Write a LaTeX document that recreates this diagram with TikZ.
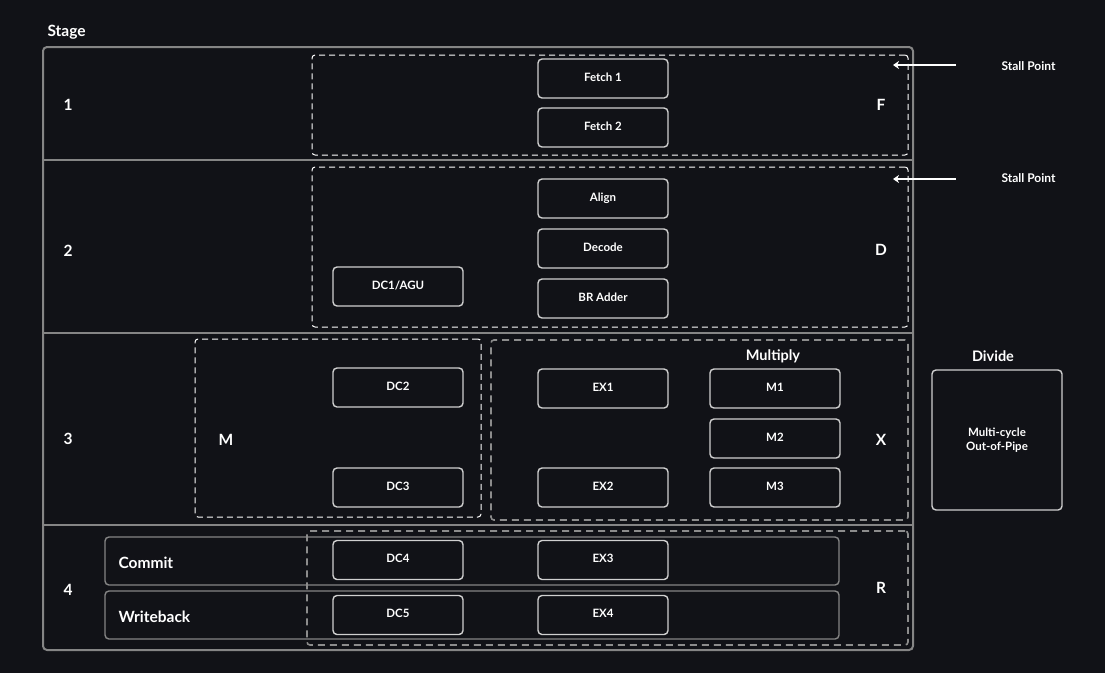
\documentclass[tikz,border=0pt]{standalone}
\usepackage{fontspec}
\setmainfont{Lato}
\usetikzlibrary{arrows.meta}
\definecolor{bg}{HTML}{111217}
\definecolor{framec}{HTML}{858585}
\definecolor{boxc}{HTML}{D0D0D0}
\definecolor{dgray}{HTML}{8C8C8C}
\begin{document}
\begin{tikzpicture}[x=1pt,y=-1pt,
  unit/.style={draw=boxc, fill=bg, line width=1.4pt, rounded corners=4pt, minimum width=130pt, minimum height=39pt, inner sep=0pt, text=white, text height=5.5pt, text depth=0pt, font=\fontsize{11.5}{13}\selectfont\bfseries},
  wdash/.style={draw=white, line width=1pt, dash pattern=on 6pt off 4pt, rounded corners=3pt, inner sep=0pt},
  gdash/.style={draw=dgray, line width=1.6pt, dash pattern=on 7pt off 5pt, rounded corners=3pt, inner sep=0pt},
  lanebox/.style={draw=framec, line width=1.4pt, rounded corners=4pt, inner sep=0pt, minimum width=734pt, minimum height=48pt},
  big/.style={text=white, yshift=-1.2pt, font=\fontsize{15.5}{17}\selectfont\bfseries},
  mid/.style={text=white, yshift=-1pt, font=\fontsize{14.5}{16}\selectfont\bfseries},
  small/.style={text=white, font=\fontsize{12}{14}\selectfont\bfseries},
  sep/.style={draw=framec, line width=2pt}
]
\fill[bg] (0,0) rectangle (1105,673);
\useasboundingbox (0,0) rectangle (1105,673);

% outer frame
\node[draw=framec, line width=2pt, rounded corners=4pt, minimum width=870pt, minimum height=603pt, inner sep=0pt] (frame) at (478,348.5) {};
\draw[sep] (43,160) -- (913,160);
\draw[sep] (43,333) -- (913,333);
\draw[sep] (43,525) -- (913,525);

\node[big, anchor=west] (stage) at (44,31) {Stage};
\node[big] (n1) at (68,104) {1};
\node[big] (n2) at (68,250) {2};
\node[big] (n3) at (68,438) {3};
\node[big] (n4) at (68,589) {4};

% stage F
\node[wdash, minimum width=596pt, minimum height=100pt] (fbox) at (610,105) {};
\node[unit] (fetch1) at (603,78.5) {Fetch 1};
\node[unit] (fetch2) at (603,127.5) {Fetch 2};
\node[big] (F) at (881,104) {F};

% stage D
\node[wdash, minimum width=596pt, minimum height=160pt] (dbox) at (610,247) {};
\node[unit] (align) at (603,198.5) {Align};
\node[unit] (decode) at (603,248.5) {Decode};
\node[unit] (bradd) at (603,298.5) {BR Adder};
\node[unit] (dc1) at (398,286.5) {DC1/AGU};
\node[big] (D) at (881,249) {D};

% stall points
\node[small, anchor=west] (sp1) at (998,66) {Stall Point};
\node[small, anchor=west] (sp2) at (998,178) {Stall Point};
\coordinate (s1) at (956,65);
\coordinate (e1) at (893,65);
\coordinate (s2) at (956,179);
\coordinate (e2) at (893,179);
\draw[white, line width=1.8pt, -{Stealth[length=6pt,width=8pt,inset=2pt]}] (s1) -- (e1);
\draw[white, line width=1.8pt, -{Stealth[length=6pt,width=8pt,inset=2pt]}] (s2) -- (e2);

% stage M
\node[wdash, minimum width=286pt, minimum height=178pt] (mbox) at (338,428) {};
\node[unit] (dc2) at (398,387.5) {DC2};
\node[unit] (dc3) at (398,487.5) {DC3};
\node[big] (M) at (226,439) {M};

% stage X
\node[gdash, minimum width=417pt, minimum height=180pt] (xbox) at (699.5,430) {};
\node[unit] (ex1) at (603,388.5) {EX1};
\node[unit] (ex2) at (603,487.5) {EX2};
\node[unit] (m1) at (775,388.5) {M1};
\node[unit] (m2) at (775,438.5) {M2};
\node[unit] (m3) at (775,487.5) {M3};
\node[mid] (mult) at (773,355) {Multiply};
\node[big] (X) at (881,439) {X};

% divide
\node[mid] (divt) at (993,355) {Divide};
\node[draw=boxc, fill=bg, line width=1.4pt, rounded corners=4pt, minimum width=130pt, minimum height=140pt, inner sep=0pt, text=white, align=center, font=\fontsize{11.5}{14}\selectfont\bfseries] (div) at (997,440) {Multi-cycle\\Out-of-Pipe};

% stage R
\node[lanebox] (commit) at (472,561) {};
\node[lanebox] (wb) at (472,615) {};
\node[big, anchor=west] (committ) at (115,562) {Commit};
\node[big, anchor=west] (wbt) at (115,616) {Writeback};
\node[gdash, minimum width=601pt, minimum height=114pt] (rbox) at (607.5,588) {};
\node[unit] (dc4) at (398,560) {DC4};
\node[unit] (ex3) at (603,560) {EX3};
\node[unit] (dc5) at (398,615) {DC5};
\node[unit] (ex4) at (603,615) {EX4};
\node[big] (R) at (881,587) {R};
\end{tikzpicture}
\end{document}
